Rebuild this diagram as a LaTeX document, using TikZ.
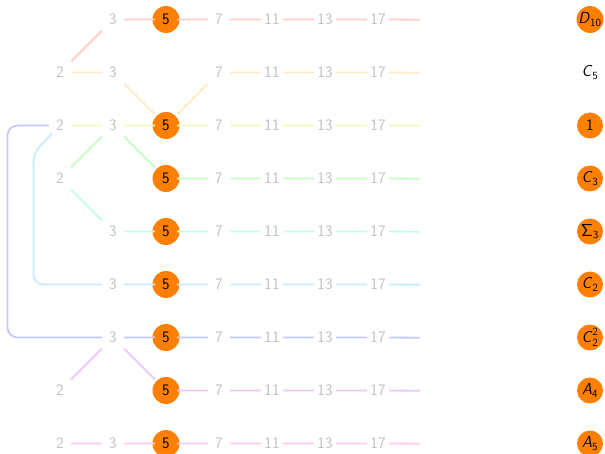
\documentclass[tikz,border=0pt]{standalone}
\usetikzlibrary{backgrounds}

% one pale hue per row, stepping round the colour wheel
\definecolor{tintone}{rgb}{1,0.8,0.8}
\definecolor{tinttwo}{rgb}{1,0.92,0.78}
\definecolor{tintthree}{rgb}{0.93,0.99,0.76}
\definecolor{tintfour}{rgb}{0.78,0.99,0.78}
\definecolor{tintfive}{rgb}{0.78,0.99,0.9}
\definecolor{tintsix}{rgb}{0.78,0.92,1}
\definecolor{tintseven}{rgb}{0.78,0.78,1}
\definecolor{tinteight}{rgb}{0.92,0.78,1}
\definecolor{tintnine}{rgb}{1,0.8,0.92}
\definecolor{numgray}{gray}{0.75}
\definecolor{hot}{RGB}{255,128,0}

\newcommand\numfont{\fontsize{16}{19}\selectfont\sffamily}
\newcommand\grp[2]{\textsl{#1}$_{\mathsf{#2}}$}

\begin{document}
\begin{tikzpicture}[x=1pt,y=-1pt,
  num/.style={rectangle,minimum size=22pt,inner sep=0pt,text=numgray,font=\numfont},
  hit/.style={num,text=black},
  link/.style={line width=1.8pt},
  tag/.style={circle,minimum size=26pt,inner sep=0pt,fill=hot,text=black,font=\numfont},
  plain/.style={circle,minimum size=26pt,inner sep=0pt,text=black,font=\numfont}]
\useasboundingbox (0,0) rectangle (605,454);

% columns 7, 11, 13, 17 and the loose end of every row
\foreach \r/\y in {1/19.5,2/72.5,3/125.5,4/178.5,5/231.5,6/284.5,7/337.5,8/390.5,9/443.5}{
  \foreach \v/\x in {7/219,11/272,13/325,17/378}
    \node[num] (r\r-\v) at (\x,\y) {\v};
  \coordinate (r\r-end) at (420,\y+0.2);
}

% row 1
\node[num] (r1-3) at (113,19.5) {3};
\node[hit] (r1-5) at (166,19.5) {5};
% row 2
\node[num] (r2-2) at (60,72.5) {2};
\node[num] (r2-3) at (113,72.5) {3};
% row 3
\node[num] (r3-2) at (60,125.5) {2};
\node[num] (r3-3) at (113,125.5) {3};
\node[hit] (r3-5) at (166,125.5) {5};
% row 4
\node[num] (r4-2) at (60,178.5) {2};
\node[hit] (r4-5) at (166,178.5) {5};
% row 5
\node[num] (r5-3) at (113,231.5) {3};
\node[hit] (r5-5) at (166,231.5) {5};
% row 6
\node[num] (r6-3) at (113,284.5) {3};
\node[hit] (r6-5) at (166,284.5) {5};
% row 7
\node[num] (r7-3) at (113,337.5) {3};
\node[hit] (r7-5) at (166,337.5) {5};
% row 8
\node[num] (r8-2) at (60,390.5) {2};
\node[hit] (r8-5) at (166,390.5) {5};
% row 9
\node[num] (r9-2) at (60,443.5) {2};
\node[num] (r9-3) at (113,443.5) {3};
\node[hit] (r9-5) at (166,443.5) {5};

% orange disks behind the fives
\begin{scope}[on background layer]
  \foreach \r in {1,3,4,5,6,7,8,9}
    \fill[hot] (r\r-5.center) circle (13.5pt);
\end{scope}

% group labels on the right
\node[tag]   (g1) at (590,19.5)  {\grp{D}{10}};
\node[plain] (g2) at (590,72.5)  {\grp{C}{5}};
\node[tag]   (g3) at (590,125.5) {1};
\node[tag]   (g4) at (590,178.5) {\grp{C}{3}};
\node[tag]   (g5) at (590,231.5) {$\mathsf{\Sigma}_{\mathsf{3}}$};
\node[tag]   (g6) at (590,284.5) {\grp{C}{2}};
\node[tag]   (g7) at (590,337.5) {\textsl{C}$^{\mathsf{2}}_{\mathsf{2}}$};
\node[tag]   (g8) at (590,390.5) {\grp{A}{4}};
\node[tag]   (g9) at (590,443.5) {\grp{A}{5}};

% bend points of the long links on the left
\coordinate (bendF) at (33.5,152.5);
\coordinate (bendG) at (7.5,125.5);

% chains
\draw[link,draw=tintone]   (r2-2) -- (r1-3) -- (r1-5) -- (r1-7) -- (r1-11) -- (r1-13) -- (r1-17) -- (r1-end);
\draw[link,draw=tinttwo]   (r2-2) -- (r2-3) -- (r3-5) -- (r2-7) -- (r2-11) -- (r2-13) -- (r2-17) -- (r2-end);
\draw[link,draw=tintthree] (r3-2) -- (r3-3) -- (r3-5) -- (r3-7) -- (r3-11) -- (r3-13) -- (r3-17) -- (r3-end);
\draw[link,draw=tintfour]  (r4-2) -- (r3-3) -- (r4-5) -- (r4-7) -- (r4-11) -- (r4-13) -- (r4-17) -- (r4-end);
\draw[link,draw=tintfive]  (r4-2) -- (r5-3) -- (r5-5) -- (r5-7) -- (r5-11) -- (r5-13) -- (r5-17) -- (r5-end);
\draw[link,draw=tintsix,rounded corners=10pt,shorten <=-5pt] (r3-2) -- (bendF) |- (r6-3);
\draw[link,draw=tintsix]   (r6-3) -- (r6-5) -- (r6-7) -- (r6-11) -- (r6-13) -- (r6-17) -- (r6-end);
\draw[link,draw=tintseven,rounded corners=10pt] (r3-2) -- (bendG) |- (r7-3);
\draw[link,draw=tintseven] (r7-3) -- (r7-5) -- (r7-7) -- (r7-11) -- (r7-13) -- (r7-17) -- (r7-end);
\draw[link,draw=tinteight] (r8-2) -- (r7-3) -- (r8-5) -- (r8-7) -- (r8-11) -- (r8-13) -- (r8-17) -- (r8-end);
\draw[link,draw=tintnine]  (r9-2) -- (r9-3) -- (r9-5) -- (r9-7) -- (r9-11) -- (r9-13) -- (r9-17) -- (r9-end);
\end{tikzpicture}
\end{document}
